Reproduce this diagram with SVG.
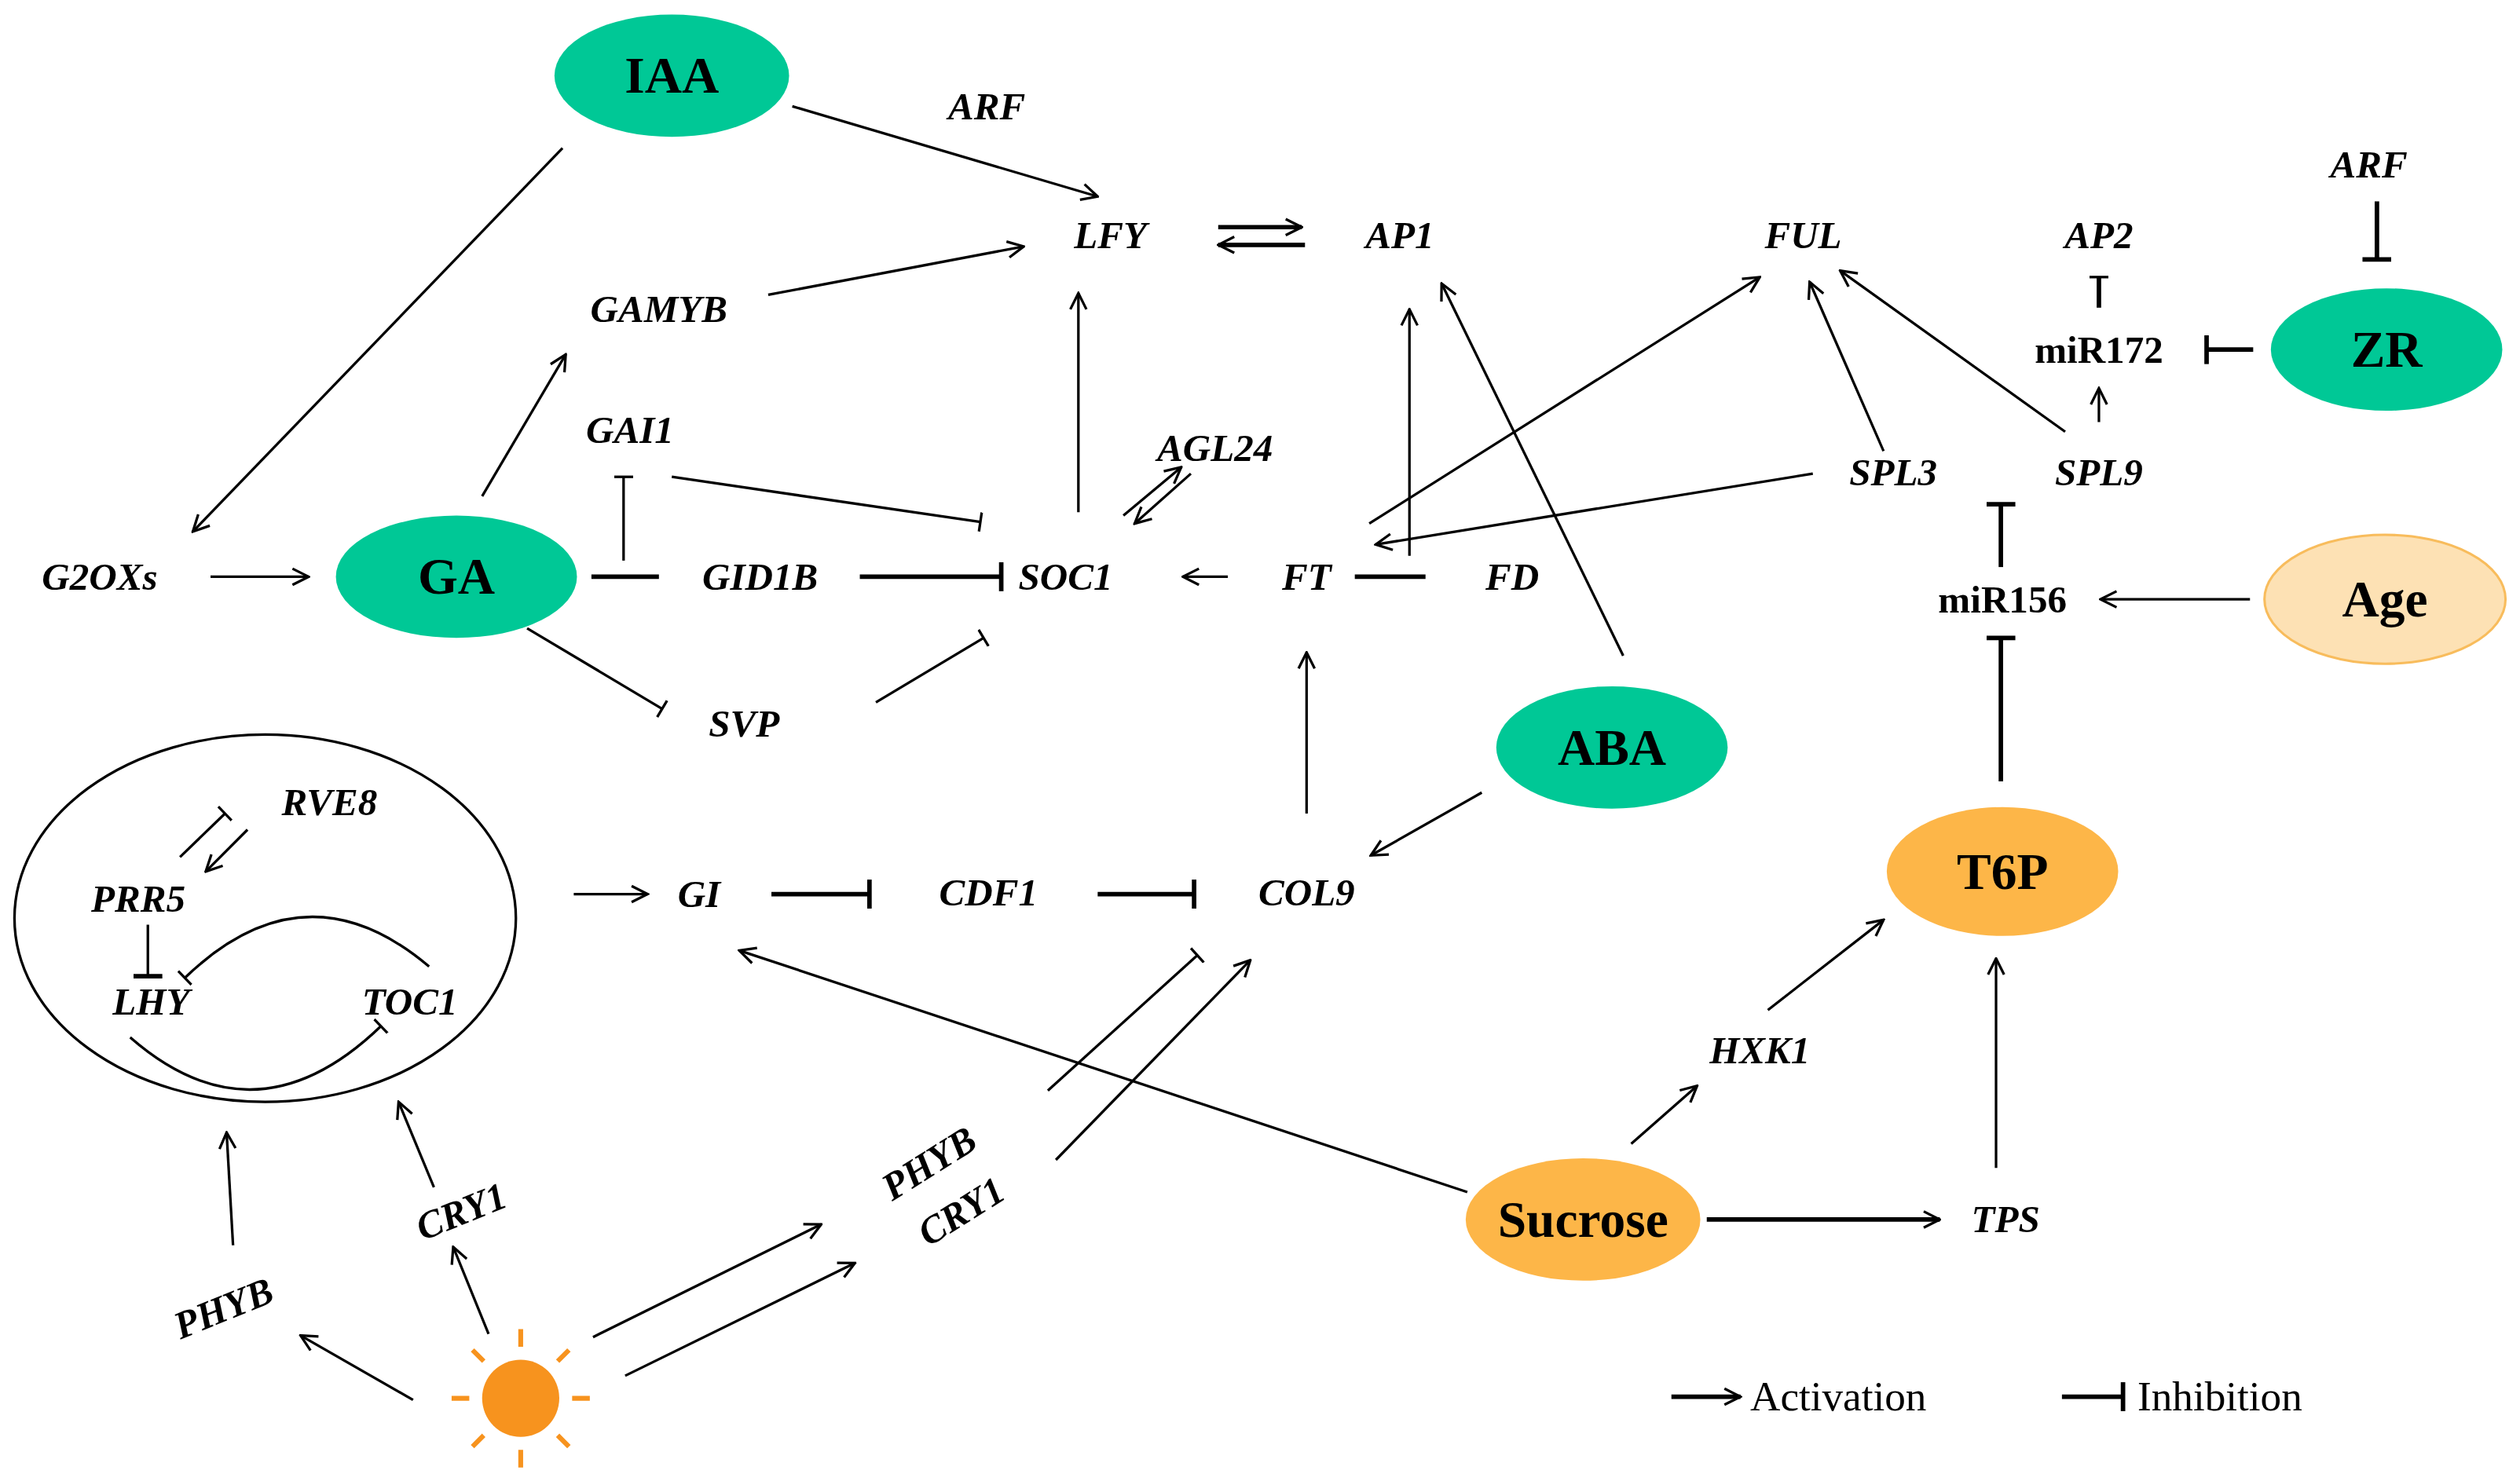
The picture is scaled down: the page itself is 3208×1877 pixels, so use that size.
<svg xmlns="http://www.w3.org/2000/svg" width="3208" height="1877" viewBox="0 0 3208 1877">
<style>
.g{font-family:"Liberation Serif",serif;font-style:italic;font-weight:bold;font-size:24px;fill:#000;text-anchor:middle;dominant-baseline:central}
.m{font-family:"Liberation Serif",serif;font-weight:bold;font-size:24px;fill:#000;text-anchor:middle;dominant-baseline:central}
.h{font-family:"Liberation Serif",serif;font-weight:bold;font-size:32px;fill:#000;text-anchor:middle;dominant-baseline:central}
.l{font-family:"Liberation Serif",serif;font-size:26px;fill:#000;dominant-baseline:central}
.e line,.e path{stroke:#000;stroke-width:1.6;fill:none}
.e .b{stroke-width:2.8}
.grn{fill:#00c896}
.org{fill:#fdb648}
</style>
<defs>
<marker id="a" viewBox="0 0 12 12" refX="11" refY="6" markerWidth="12" markerHeight="12" orient="auto" markerUnits="userSpaceOnUse"><path d="M1,1 L11,6 L1,11" fill="none" stroke="#000" stroke-width="1.6"/></marker>
<marker id="t" viewBox="0 0 4 18" refX="2" refY="9" markerWidth="4" markerHeight="18" orient="auto" markerUnits="userSpaceOnUse"><path d="M2,0 L2,18" stroke="#000" stroke-width="2.8"/></marker>
<marker id="s" viewBox="0 0 4 12" refX="2" refY="6" markerWidth="4" markerHeight="12" orient="auto" markerUnits="userSpaceOnUse"><path d="M2,0 L2,12" stroke="#000" stroke-width="1.6"/></marker>
</defs>
<rect width="3208" height="1877" fill="#fff"/>
<g transform="scale(2.0459,2.0514)">
<g id="connectors" class="e">
<line x1="493" y1="66" x2="683" y2="122" marker-end="url(#a)"/>
<line x1="350" y1="92" x2="120" y2="330" marker-end="url(#a)"/>
<line x1="131" y1="358" x2="192" y2="358" marker-end="url(#a)"/>
<line x1="300" y1="308" x2="352" y2="220" marker-end="url(#a)"/>
<line x1="478" y1="183" x2="637" y2="153" marker-end="url(#a)"/>
<line class="b" x1="368" y1="358" x2="410" y2="358"/>
<line x1="388" y1="348" x2="388" y2="296" marker-end="url(#s)"/>
<line x1="418" y1="296" x2="610" y2="324" marker-end="url(#s)"/>
<line class="b" x1="535" y1="358" x2="623" y2="358" marker-end="url(#t)"/>
<line x1="328" y1="390" x2="412" y2="440" marker-end="url(#s)"/>
<line x1="545" y1="436" x2="612" y2="396" marker-end="url(#s)"/>
<line x1="671" y1="318" x2="671" y2="182" marker-end="url(#a)"/>
<line x1="699" y1="320" x2="735" y2="290" marker-end="url(#a)"/>
<line x1="741" y1="294" x2="706" y2="325" marker-end="url(#a)"/>
<line x1="764" y1="358" x2="736" y2="358" marker-end="url(#a)"/>
<line class="b" x1="843" y1="358" x2="887" y2="358"/>
<line class="b" x1="758" y1="141" x2="810" y2="141" marker-end="url(#a)"/>
<line class="b" x1="812" y1="152" x2="758" y2="152" marker-end="url(#a)"/>
<line x1="877" y1="345" x2="877" y2="192" marker-end="url(#a)"/>
<line x1="1010" y1="407" x2="897" y2="176" marker-end="url(#a)"/>
<line x1="852" y1="325" x2="1095" y2="172" marker-end="url(#a)"/>
<line x1="1128" y1="294" x2="856" y2="338" marker-end="url(#a)"/>
<line x1="1172" y1="280" x2="1126" y2="175" marker-end="url(#a)"/>
<line x1="1285" y1="268" x2="1145" y2="168" marker-end="url(#a)"/>
<line x1="1306" y1="262" x2="1306" y2="241" marker-end="url(#a)"/>
<line class="b" x1="1306" y1="191" x2="1306" y2="172" marker-end="url(#s)"/>
<line class="b" x1="1402" y1="217" x2="1373" y2="217" marker-end="url(#t)"/>
<line class="b" x1="1479" y1="125" x2="1479" y2="161" marker-end="url(#t)"/>
<line class="b" x1="1245" y1="352" x2="1245" y2="313" marker-end="url(#t)"/>
<line x1="1400" y1="372" x2="1307" y2="372" marker-end="url(#a)"/>
<line class="b" x1="1245" y1="485" x2="1245" y2="396" marker-end="url(#t)"/>
<line x1="813" y1="505" x2="813" y2="405" marker-end="url(#a)"/>
<line x1="922" y1="492" x2="853" y2="531" marker-end="url(#a)"/>
<line x1="357" y1="555" x2="403" y2="555" marker-end="url(#a)"/>
<line class="b" x1="480" y1="555" x2="541" y2="555" marker-end="url(#t)"/>
<line class="b" x1="683" y1="555" x2="743" y2="555" marker-end="url(#t)"/>
<line x1="652" y1="677" x2="745" y2="593" marker-end="url(#s)"/>
<line x1="657" y1="720" x2="778" y2="596" marker-end="url(#a)"/>
<line x1="913" y1="740" x2="460" y2="590" marker-end="url(#a)"/>
<line x1="1015" y1="710" x2="1056" y2="674" marker-end="url(#a)"/>
<line x1="1100" y1="627" x2="1172" y2="571" marker-end="url(#a)"/>
<line class="b" x1="1062" y1="757" x2="1207" y2="757" marker-end="url(#a)"/>
<line x1="1242" y1="725" x2="1242" y2="595" marker-end="url(#a)"/>
<line x1="369" y1="830" x2="511" y2="760" marker-end="url(#a)"/>
<line x1="389" y1="854" x2="532" y2="784" marker-end="url(#a)"/>
<line x1="257" y1="869" x2="187" y2="829" marker-end="url(#a)"/>
<line x1="304" y1="828" x2="282" y2="774" marker-end="url(#a)"/>
<line x1="270" y1="737" x2="248" y2="684" marker-end="url(#a)"/>
<line x1="145" y1="773" x2="141" y2="703" marker-end="url(#a)"/>
<line x1="112" y1="532" x2="140" y2="505" marker-end="url(#s)"/>
<line x1="154" y1="515" x2="128" y2="541" marker-end="url(#a)"/>
<line x1="92" y1="574" x2="92" y2="606" marker-end="url(#t)"/>
<path d="M267,600 Q190,535 115,607" marker-end="url(#s)"/>
<path d="M81,644 Q159,712 237,637" marker-end="url(#s)"/>
<line class="b" x1="1040" y1="867" x2="1083" y2="867" marker-end="url(#a)"/>
<line class="b" x1="1283" y1="867" x2="1321" y2="867" marker-end="url(#t)"/>
</g>
<g id="clock"><ellipse cx="165" cy="570" rx="156" ry="114" fill="none" stroke="#000" stroke-width="1.6"/></g>
<g id="IAA"><ellipse class="grn" cx="418" cy="47" rx="73" ry="38"/><text class="h" x="418" y="47">IAA</text></g>
<g id="GA"><ellipse class="grn" cx="284" cy="358" rx="75" ry="38"/><text class="h" x="284" y="358">GA</text></g>
<g id="ZR"><ellipse class="grn" cx="1485" cy="217" rx="72" ry="38"/><text class="h" x="1485" y="217">ZR</text></g>
<g id="ABA"><ellipse class="grn" cx="1003" cy="464" rx="72" ry="38"/><text class="h" x="1003" y="464">ABA</text></g>
<g id="Age"><ellipse cx="1484" cy="372" rx="75" ry="40" fill="#fde1b4" stroke="#f8bc5c" stroke-width="1.5"/><text class="h" x="1484" y="372">Age</text></g>
<g id="T6P"><ellipse class="org" cx="1246" cy="541" rx="72" ry="40"/><text class="h" x="1246" y="541">T6P</text></g>
<g id="Sucrose"><ellipse class="org" cx="985" cy="757" rx="73" ry="38"/><text class="h" x="985" y="757">Sucrose</text></g>
<g id="sun" fill="#f7931e" stroke="#f7931e" stroke-width="3">
<circle cx="324" cy="868" r="24" stroke="none"/>
<g transform="translate(324,868)"><path d="M0,-32V-43M0,32V43M-32,0H-43M32,0H43M23,-23L30,-30M-23,-23L-30,-30M23,23L30,30M-23,23L-30,30"/></g>
</g>
<g id="genes">
<text class="g" x="614" y="66">ARF</text>
<text class="g" x="691" y="146">LFY</text>
<text class="g" x="871" y="146">AP1</text>
<text class="g" x="1122" y="146">FUL</text>
<text class="g" x="1306" y="146">AP2</text>
<text class="g" x="1474" y="102">ARF</text>
<text class="g" x="410" y="192">GAMYB</text>
<text class="g" x="392" y="267">GAI1</text>
<text class="g" x="756" y="278">AGL24</text>
<text class="g" x="1178" y="293">SPL3</text>
<text class="g" x="1306" y="293">SPL9</text>
<text class="m" x="1306" y="217">miR172</text>
<text class="g" x="62" y="358">G2OXs</text>
<text class="g" x="473" y="358">GID1B</text>
<text class="g" x="663" y="358">SOC1</text>
<text class="g" x="813" y="358">FT</text>
<text class="g" x="941" y="358">FD</text>
<text class="m" x="1246" y="372">miR156</text>
<text class="g" x="463" y="449">SVP</text>
<text class="g" x="205" y="498">RVE8</text>
<text class="g" x="86" y="558">PRR5</text>
<text class="g" x="94" y="622">LHY</text>
<text class="g" x="255" y="622">TOC1</text>
<text class="g" x="435" y="555">GI</text>
<text class="g" x="615" y="554">CDF1</text>
<text class="g" x="813" y="554">COL9</text>
<text class="g" x="1095" y="652">HXK1</text>
<text class="g" x="1248" y="757">TPS</text>
<text class="g" transform="translate(578,722) rotate(-32)">PHYB</text>
<text class="g" transform="translate(598,752) rotate(-32)">CRY1</text>
<text class="g" transform="translate(287,752) rotate(-22)">CRY1</text>
<text class="g" transform="translate(139,812) rotate(-22)">PHYB</text>
</g>
<g id="legend">
<text class="l" x="1089" y="867">Activation</text>
<text class="l" x="1330" y="867">Inhibition</text>
</g>
</g>
</svg>
